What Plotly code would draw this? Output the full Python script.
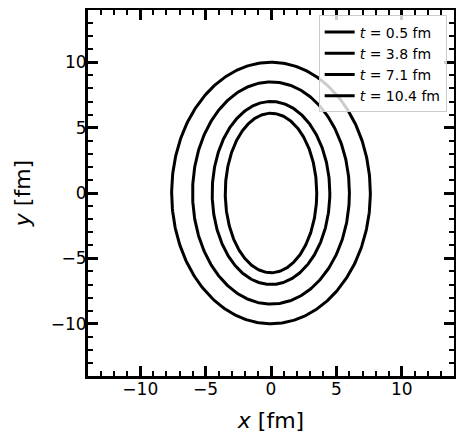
import numpy as np
import plotly.graph_objects as go

times = [0.5, 3.8, 7.1, 10.4]
semi_x = [3.5, 4.5, 6.0, 7.6]
semi_y = [6.1, 7.0, 8.5, 10.0]
x_ticks = [-10, -5, 0, 5, 10]
y_ticks = [-10, -5, 0, 5, 10]
tick_text = ["\u221210", "\u22125", "0", "5", "10"]

theta = np.linspace(0, 2 * np.pi, 361)
fig = go.Figure()
for t, a, b in zip(times, semi_x, semi_y):
    fig.add_trace(go.Scatter(
        x=a * np.cos(theta), y=b * np.sin(theta), mode="lines",
        line=dict(color="black", width=3),
        name=f"<i>t</i> = {t} fm"))

axis_common = dict(
    range=[-14, 14], showgrid=False, zeroline=False, automargin=False,
    showline=True, linewidth=3, linecolor="black", mirror="allticks",
    ticks="inside", ticklen=10, tickwidth=2.5, tickcolor="black",
    minor=dict(ticks="inside", ticklen=5, tickwidth=1.5, tickcolor="black", dtick=1, showgrid=False),
    tickfont=dict(family="DejaVu Sans", size=17, color="black"),
)
fig.update_xaxes(**axis_common, tickvals=x_ticks, ticktext=tick_text, ticklabelstandoff=-4,
                 title=dict(text="<i>x</i> [fm]", font=dict(family="DejaVu Sans", size=22, color="black")))
fig.update_yaxes(**axis_common, tickvals=y_ticks, ticktext=tick_text, ticklabelstandoff=-5,
                 title=dict(text="<i>y</i> [fm]", font=dict(family="DejaVu Sans", size=22, color="black")))

fig.update_layout(
    width=456, height=432,
    margin=dict(l=80, r=10, t=2, b=64),
    plot_bgcolor="white", paper_bgcolor="white",
    font=dict(family="DejaVu Sans", color="black"),
    legend=dict(x=0.98, y=0.985, xanchor="right", yanchor="top",
                bgcolor="rgba(255,255,255,0.8)", bordercolor="#cccccc", borderwidth=1,
                font=dict(family="DejaVu Sans", size=14, color="black"),
                tracegroupgap=0, itemwidth=30),
)
fig.write_html("out.html")
